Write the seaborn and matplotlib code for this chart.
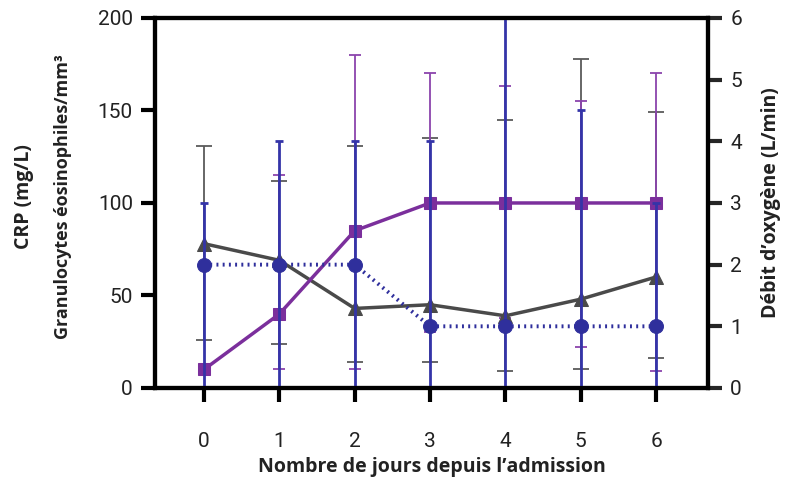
import matplotlib
matplotlib.use("Agg")
import matplotlib.pyplot as plt
import numpy as np
import pandas as pd
import seaborn as sns

# ─────────────────────────────────────────
# données
# ─────────────────────────────────────────
jours = [0, 1, 2, 3, 4, 5, 6]

crp = [78, 69, 43, 45, 39, 48, 60]
crp_bas = [26, 24, 14, 14, 9, 10, 16]
crp_haut = [131, 112, 131, 135, 145, 178, 149]

eos = [10, 40, 85, 100, 100, 100, 100]
eos_bas = [10, 10, 10, 30, 38, 22, 9]
eos_haut = [10, 115, 180, 170, 163, 155, 170]

o2 = [2, 2, 2, 1, 1, 1, 1]
o2_bas = [0, 0, 0, 0, 0, 0, 0]
o2_haut = [3, 4, 4, 4, 6, 4.5, 3]

GRIS = "#4a4a4a"
VIOLET = "#7b2f9c"
BLEU = "#2f2f9c"
POLICE = ["Open Sans", "DejaVu Sans"]

sns.set_style("white")
plt.rcParams["font.family"] = ["Roboto", "DejaVu Sans"]

fig = plt.figure(figsize=(7.85, 4.79), dpi=100)
ax = fig.add_axes([0.1975, 0.19, 0.7045, 0.7725])
ax2 = ax.twinx()

df = pd.DataFrame({"jour": jours, "crp": crp, "eos": eos, "o2": o2})


def barres(axe, y, bas, haut, couleur, lw, cap, z):
    y = np.array(y, dtype=float)
    err = [y - np.array(bas), np.array(haut) - y]
    axe.errorbar(jours, y, yerr=err, fmt="none", ecolor=couleur,
                 elinewidth=lw, capsize=cap, capthick=lw, zorder=z, clip_on=False)


barres(ax, crp, crp_bas, crp_haut, "#5a5a5a", 1.3, 6, 1)
barres(ax, eos, eos_bas, eos_haut, "#8b44ad", 1.3, 4.5, 2)
sns.lineplot(data=df, x="jour", y="crp", ax=ax, color=GRIS, lw=2.5,
             marker="^", markersize=10, markeredgecolor=GRIS, zorder=3)
sns.lineplot(data=df, x="jour", y="eos", ax=ax, color=VIOLET, lw=2.5,
             marker="s", markersize=9, markeredgecolor=VIOLET, zorder=4)

barres(ax2, o2, o2_bas, o2_haut, "#3434a8", 2.0, 3, 1)
sns.lineplot(data=df, x="jour", y="o2", ax=ax2, color=BLEU, lw=2.8,
             linestyle=(0, (0.5, 1.1)), marker="o", markersize=10,
             markeredgecolor=BLEU, zorder=3)

ax.set_xlim(-0.65, 6.69)
ax.set_ylim(0, 200)
ax2.set_ylim(0, 6)
ax.set_xticks(jours)
ax.set_yticks([0, 50, 100, 150, 200])
ax2.set_yticks(range(7))

for axe in (ax, ax2):
    for s in axe.spines.values():
        s.set_linewidth(3)
        s.set_color("black")
ax.tick_params(axis="both", direction="out", length=10, width=3, labelsize=15,
               colors="black", labelcolor="#222222", left=True, bottom=True)
ax.tick_params(axis="x", pad=22)
ax.tick_params(axis="y", pad=6)
ax2.tick_params(axis="y", direction="out", length=10, width=3, labelsize=15,
                labelcolor="#222222", right=True, pad=6)

ax.set_xlabel("Nombre de jours depuis l\u2019admission", fontsize=14,
              fontweight="bold", color="#222222", labelpad=4, family=POLICE)
ax.set_ylabel("")
ax2.set_ylabel("D\u00e9bit d\u2019oxyg\u00e8ne (L/min)", fontsize=14,
               fontweight="bold", color="#222222", labelpad=14, family=POLICE)
fig.text(0.03, 0.59, "CRP (mg/L)", rotation=90, ha="center", va="center",
         fontsize=14, fontweight="bold", color="#222222", family=POLICE)
fig.text(0.08, 0.59, "Granulocytes \u00e9osinophiles/mm\u00b3", rotation=90,
         ha="center", va="center", fontsize=13, fontweight="bold",
         color="#222222", family=POLICE)

fig.savefig("out.png", dpi=100)
